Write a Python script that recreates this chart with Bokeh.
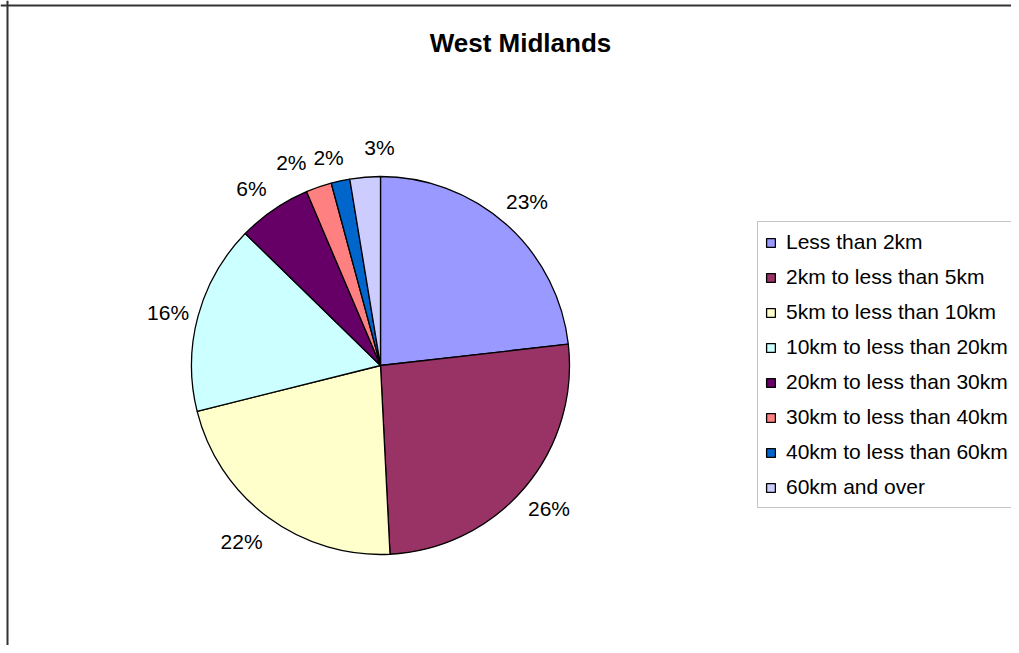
import math
from bokeh.plotting import figure
from bokeh.models import Range1d, ColumnDataSource, Legend, LegendItem, Label, Span
from bokeh.core.properties import value
from bokeh.embed import file_html
from bokeh.resources import INLINE

# ---- data ----
categories = [
    "Less than 2km",
    "2km to less than 5km",
    "5km to less than 10km",
    "10km to less than 20km",
    "20km to less than 30km",
    "30km to less than 40km",
    "40km to less than 60km",
    "60km and over",
]
shares = [23.2, 26.0, 21.9, 16.2, 6.3, 2.2, 1.6, 2.6]
colors = ["#9999FF", "#993366", "#FFFFCC", "#CCFFFF", "#660066", "#FF8080", "#0066CC", "#CCCCFF"]
title_text = "West Midlands"

# ---- layout ----
W, H = 1011, 645
FONT = "Liberation Sans"
cx, cy, R = 380, 280, 189
# label placement tweaks (Excel spreads crowded labels apart)
label_radius = [220, 221, 224, 219, 219, 222, 214, 218]
label_nudge_deg = [0, 0, 1.8, -1.0, -1.7, -4.6, -1.8, 4.4]

total = sum(shares)
starts, ends, lx, ly, labels = [], [], [], [], []
cum = 0.0
for i, v in enumerate(shares):
    f0 = cum / total
    cum += v
    f1 = cum / total
    starts.append(math.pi / 2 - 2 * math.pi * f1)
    ends.append(math.pi / 2 - 2 * math.pi * f0)
    mid = math.pi / 2 - 2 * math.pi * (f0 + f1) / 2 - math.radians(label_nudge_deg[i])
    lx.append(cx + label_radius[i] * math.cos(mid))
    ly.append(cy + label_radius[i] * math.sin(mid))
    labels.append(f"{round(v)}%")

src = ColumnDataSource(dict(cat=categories, start=starts, end=ends, color=colors))
lab_src = ColumnDataSource(dict(x=lx, y=ly, t=labels))

p = figure(width=W, height=H, output_backend="svg", toolbar_location=None,
           x_range=Range1d(0, W), y_range=Range1d(0, H),
           x_axis_type=None, y_axis_type=None, min_border=0)
p.grid.visible = False
p.outline_line_color = None
p.background_fill_color = "white"
p.border_fill_color = "white"

wr = p.wedge(x=cx, y=cy, radius=R, start_angle="start", end_angle="end",
             fill_color="color", line_color="black", line_width=1.3, source=src)

p.text(x="x", y="y", text="t", source=lab_src, text_align="center",
       text_baseline="middle", text_font=value(FONT), text_font_size="21px",
       text_color="black")

p.add_layout(Label(x=520, y=H - 42, text=title_text, text_align="center",
                   text_baseline="middle", text_font=FONT,
                   text_font_size="26px", text_font_style="bold",
                   text_color="black"))

items = [LegendItem(label=c, renderers=[wr], index=i) for i, c in enumerate(categories)]
legend = Legend(items=items, location=(757, H - 508), orientation="vertical",
                label_text_font=FONT, label_text_font_size="21px",
                label_text_color="black", glyph_width=11, glyph_height=11,
                label_standoff=10, label_height=26, spacing=9, padding=7,
                border_line_color="#8a8a8a", border_line_width=1,
                background_fill_color="white", background_fill_alpha=1.0,
                margin=0)
p.add_layout(legend)

p.add_layout(Span(location=7, dimension="height", line_color="#333333", line_width=2))
p.add_layout(Span(location=H - 5, dimension="width", line_color="#333333", line_width=2))

open("out.html", "w").write(file_html(p, INLINE))
